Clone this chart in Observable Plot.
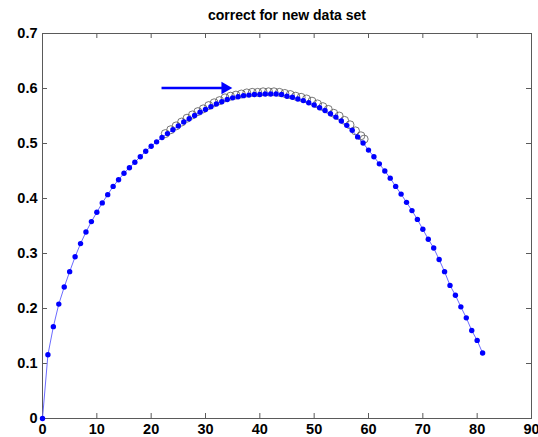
<!DOCTYPE html>
<html>
<head>
<meta charset="utf-8">
<script src="https://cdn.jsdelivr.net/npm/d3@7"></script>
<script src="https://cdn.jsdelivr.net/npm/@observablehq/plot@0.6"></script>
<style>
  html, body { margin: 0; padding: 0; background: #fff; }
  #chart svg { display: block; }
</style>
</head>
<body>
<div id="chart"></div>
<script>
// ---- data ----
const titleText = "correct for new data set";

const blueX = [0,1,2,3,4,5,6,7,8,9,10,11,12,13,14,15,16,17,18,19,20,
  21,22,23,24,25,26,27,28,29,30,31,32,33,34,35,36,37,38,39,40,
  41,42,43,44,45,46,47,48,49,50,51,52,53,54,55,56,57,58,59,60,
  61,62,63,64,65,66,67,68,69,70,71,72,73,74,75,76,77,78,79,80,81];
const blueY = [0,0.116,0.167,0.208,0.239,0.267,0.294,0.318,0.339,0.358,0.375,
  0.392,0.407,0.422,0.434,0.446,0.456,0.466,0.476,0.486,0.495,
  0.503,0.511,0.518,0.525,0.532,0.539,0.545,0.551,0.557,0.562,
  0.567,0.572,0.576,0.580,0.583,0.585,0.587,0.588,0.589,0.589,
  0.590,0.590,0.590,0.589,0.586,0.584,0.581,0.578,0.574,0.570,
  0.565,0.560,0.554,0.548,0.541,0.533,0.524,0.512,0.501,0.488,
  0.476,0.463,0.450,0.437,0.422,0.408,0.393,0.378,0.362,0.344,
  0.326,0.310,0.289,0.267,0.242,0.224,0.203,0.183,0.160,0.142,0.119];

const circleX = [22.6,23.6,24.6,25.6,26.6,27.6,28.6,29.6,30.6,31.6,32.6,33.6,
  34.6,35.6,36.6,37.6,38.6,39.6,40.6,41.6,42.6,43.6,44.6,45.6,46.6,47.6,
  48.6,49.6,50.6,51.6,52.6,53.6,54.6,55.6,56.6,57.6,58.6,59.2];
const circleY = [0.518,0.525,0.532,0.539,0.546,0.552,0.558,0.563,0.569,0.574,0.578,0.583,
  0.586,0.588,0.590,0.592,0.593,0.593,0.594,0.594,0.594,0.593,0.591,0.589,0.586,0.584,
  0.581,0.577,0.572,0.567,0.562,0.555,0.550,0.542,0.534,0.523,0.514,0.508];

const arrowX1 = [22.0];
const arrowX2 = [33.6];
const arrowY = [0.601];

const xTicks = [0,10,20,30,40,50,60,70,80,90];
const yTicks = [0,0.1,0.2,0.3,0.4,0.5,0.6,0.7];
const xInnerTicks = [10,20,30,40,50,60,70,80];
const yInnerTicks = [0.1,0.2,0.3,0.4,0.5,0.6];

// ---- build tables ----
const blue = blueX.map((x, i) => ({x, y: blueY[i]}));
const circles = circleX.map((x, i) => ({x, y: circleY[i]}));
const arrow = arrowX1.map((x1, i) => ({x1, x2: arrowX2[i], y: arrowY[i]}));

const W = 538, H = 437;
const mL = 42, mR = 7, mT = 33, mB = 19;
const frameW = W - mL - mR, frameH = H - mT - mB;
const tick = 5;
const font = "'Liberation Sans', Arial, Helvetica, sans-serif";
const frameColor = "#5a5a5a";

const chart = Plot.plot({
  width: W,
  height: H,
  marginLeft: mL,
  marginRight: mR,
  marginTop: mT,
  marginBottom: mB,
  style: {background: "#fff", fontFamily: font},
  x: {domain: [0, 90]},
  y: {domain: [0, 0.7]},
  marks: [
    // inward ticks on all four sides
    Plot.tickX(xInnerTicks, {x: d => d, stroke: frameColor, insetTop: frameH - tick}),
    Plot.tickX(xInnerTicks, {x: d => d, stroke: frameColor, insetBottom: frameH - tick}),
    Plot.tickY(yInnerTicks, {y: d => d, stroke: frameColor, insetRight: frameW - tick}),
    Plot.tickY(yInnerTicks, {y: d => d, stroke: frameColor, insetLeft: frameW - tick}),
    Plot.frame({stroke: frameColor, strokeWidth: 1}),
    Plot.axisX(xTicks, {
      anchor: "bottom", tickSize: 0, tickPadding: 5,
      tickFormat: d => String(d),
      fontSize: 14.5, fontWeight: "bold", fill: "#000", label: null
    }),
    Plot.axisY(yTicks, {
      anchor: "left", tickSize: 0, tickPadding: 5,
      tickFormat: d => String(d),
      fontSize: 14.5, fontWeight: "bold", fill: "#000", label: null
    }),
    // title
    Plot.text([titleText], {
      frameAnchor: "top", dy: -14, lineAnchor: "bottom",
      text: d => d, fontSize: 14, fontWeight: "bold", fill: "#000"
    }),
    // new data set (hollow circles)
    Plot.dot(circles, {x: "x", y: "y", r: 4, stroke: "#555", strokeWidth: 0.8, fill: "none"}),
    // blue line + dots
    Plot.line(blue, {x: "x", y: "y", stroke: "#6b6bff", strokeWidth: 1}),
    Plot.dot(blue, {x: "x", y: "y", r: 2.7, fill: "#0000ff", stroke: "none"}),
    // arrow
    Plot.ruleY(arrow, {y: "y", x1: "x1", x2: "x2", stroke: "#0000ff", strokeWidth: 2.5}),
    Plot.dot(arrow, {x: "x2", y: "y", symbol: "triangle2", rotate: 90, r: 6, fill: "#0000ff", stroke: "none"})
  ]
});

document.getElementById("chart").appendChild(chart);
</script>
</body>
</html>
